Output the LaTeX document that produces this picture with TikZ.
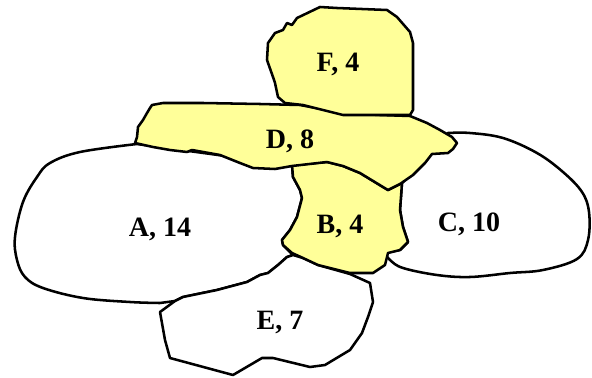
\documentclass[tikz,border=0pt]{standalone}
\usepackage{fontspec}
\setmainfont{Liberation Serif}
\definecolor{pale}{RGB}{255,255,153}
\begin{document}
\begin{tikzpicture}[x=0.75pt,y=-0.75pt,
  region/.style={draw=black,line width=1.9pt,line join=round},
  plain/.style={region,fill=white},
  marked/.style={region,fill=pale},
  tag/.style={font=\bfseries\fontsize{21}{24}\selectfont,inner sep=0pt,anchor=base}]
\useasboundingbox (0,0) rectangle (592,378);

% A
\draw[plain] plot[smooth,tension=0.6] coordinates {(137,144) (80,152) (50,163) (37,177) (23,202) (15,237) (17,260) (25,277) (43,288) (83,298) (130,302) (160,303)}
  -- (175,301) -- (183,297) -- (217,290) -- (247,282) -- (260,275) -- (268,273) -- (278,265) -- (287,257) -- (293,255)
  -- (283,245) -- (282,240) -- (290,230) -- (297,217) -- (302,198) -- (300,190) -- (293,177) -- (292,165) -- cycle;

% C
\draw[plain] plot[smooth,tension=0.6] coordinates {(448,133) (470,133) (503,138) (537,153) (563,172) (582,192) (589,212) (588,240) (577,259) (543,270) (510,273) (470,277) (437,275) (403,268) (390,260) (385,253)}
  -- (400,250) -- (408,242) -- (403,227) -- (400,210) -- (402,183) -- (420,165) -- (440,145) -- cycle;

% E
\draw[plain] (160,312) -- (175,301) -- (183,297) -- (217,290) -- (247,282) -- (260,275) -- (268,273) -- (278,265) -- (287,257) -- (293,255)
  -- (303,258) -- (318,265) -- (350,274) -- (370,283) -- (373,302) -- (368,317) -- (362,333) -- (350,350) -- (325,365) -- (310,367)
  -- (273,358) -- (262,358) -- (233,375) -- (170,358) -- (165,340) -- cycle;

% B
\draw[marked] (292,165) -- (293,177) -- (300,190) -- (302,198) -- (297,217) -- (290,230) -- (282,240) -- (283,245) -- (292,253) -- (303,258)
  -- (318,265) -- (350,273) -- (373,273) -- (385,265) -- (388,253) -- (400,250) -- (408,242) -- (403,227) -- (400,210) -- (402,183)
  -- (388,190) -- (383,187) -- (360,173) -- (343,166) -- (327,162) -- cycle;

% D
\draw[marked] (152,105) -- (163,103) -- (203,103) -- (260,104) -- (300,105) -- (343,113) -- (380,115) -- (410,116) -- (427,123) -- (440,130)
  -- (452,137) -- (457,143) -- (453,149) -- (448,153) -- (432,154) -- (425,163) -- (413,175) -- (400,184) -- (388,190) -- (383,187)
  -- (360,173) -- (343,166) -- (327,162) -- (292,166) -- (275,169) -- (253,168) -- (240,163) -- (220,155) -- (192,150) -- (187,152)
  -- (170,150) -- (153,147) -- (135,143) -- (137,137) -- (138,127) -- (143,120) -- (147,113) -- (150,108) -- cycle;

% F
\draw[marked] (297,18) -- (320,7) -- (337,8) -- (387,10) -- (397,17) -- (410,32) -- (413,43) -- (413,67) -- (413,110) -- (410,115)
  -- (343,115) -- (303,105) -- (285,103) -- (278,97) -- (275,83) -- (273,77) -- (267,60) -- (268,43) -- (275,33) -- (283,30)
  -- (287,23) -- (292,25) -- cycle;

\node[tag] (la) at (160,236) {A, 14};
\node[tag] (lb) at (340,233) {B, 4};
\node[tag] (lc) at (469,231) {C, 10};
\node[tag] (ld) at (290,148) {D, 8};
\node[tag] (le) at (280,329) {E, 7};
\node[tag] (lf) at (338,72) {F, 4};
\end{tikzpicture}
\end{document}
